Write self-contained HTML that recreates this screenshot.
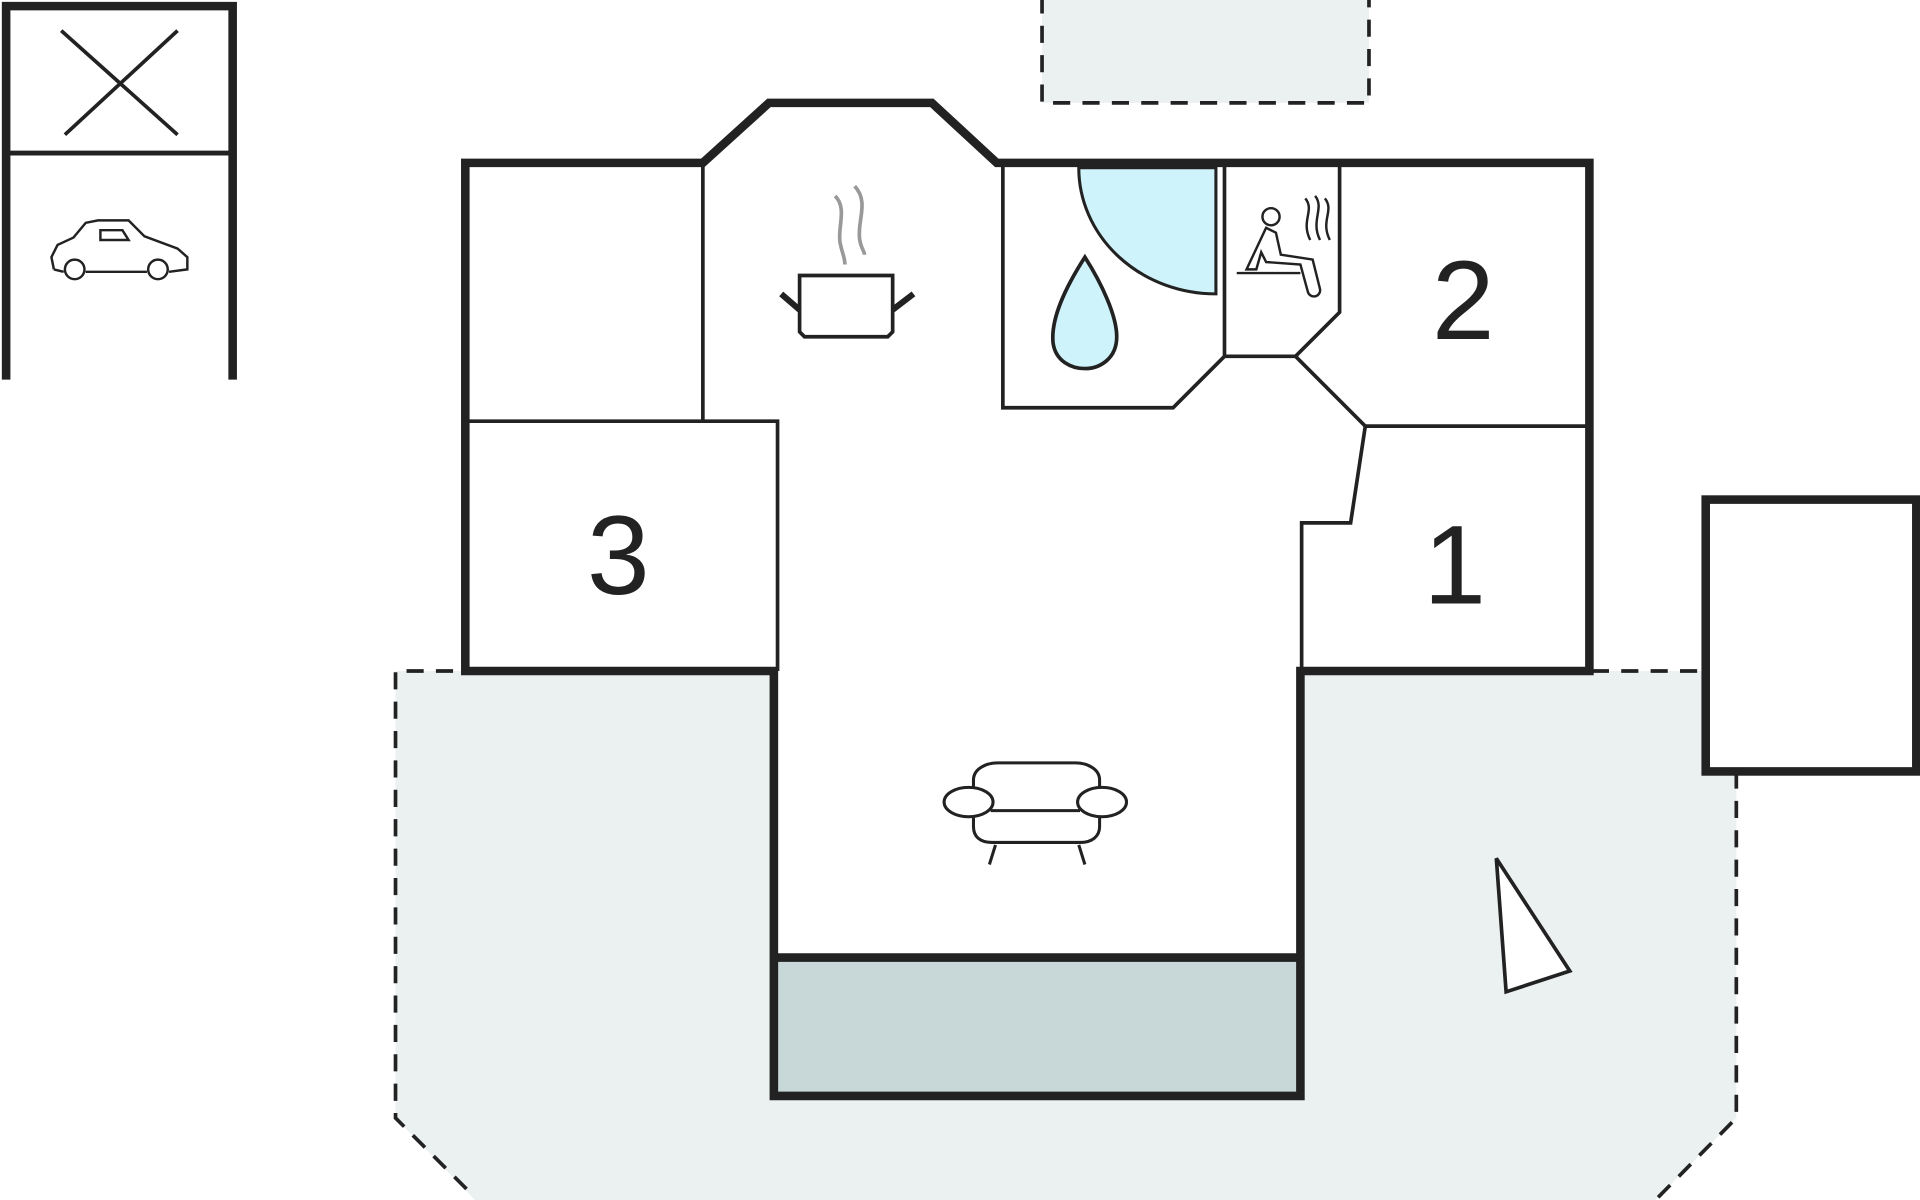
<!DOCTYPE html>
<html><head><meta charset="utf-8"><style>
html,body{margin:0;padding:0;background:#fff;}
svg{display:block;}
</style></head><body>
<svg width="1920" height="1200" viewBox="0 0 1568 980" xmlns="http://www.w3.org/2000/svg">
<rect width="1568" height="980" fill="#fff"/>
<!-- terrace -->
<polygon points="323,548 1395,548 1395,630 1418,630 1418,913 1352,980 388,980 323,913" fill="#ebf0f0"/>
<polyline points="370,548 323,548 323,913 388,978" fill="none" stroke="#222" stroke-width="3" stroke-dasharray="14,10"/>
<polyline points="1300,548 1395,548" fill="none" stroke="#222" stroke-width="3" stroke-dasharray="14,10"/>
<polyline points="1418,630 1418,913 1352,980" fill="none" stroke="#222" stroke-width="3" stroke-dasharray="14,10"/>
<!-- top dashed -->
<rect x="851" y="-5" width="267" height="89" fill="#ebf0f0" stroke="#222" stroke-width="3" stroke-dasharray="14,10"/>
<!-- right box -->
<rect x="1393" y="408" width="172" height="222" fill="#fff" stroke="#222" stroke-width="7"/>
<!-- house -->
<polygon points="380,133 574,133 628,84 761,84 814,133 1298,133 1298,548 1062,548 1062,895 632,895 632,548 380,548" fill="#fff"/>
<rect x="632" y="782" width="430" height="113" fill="#c8d8d8"/>
<!-- shower -->
<path d="M881,137 A112,103 0 0 0 993,240 L993,137 Z" fill="#cff3fa" stroke="#222" stroke-width="2.5"/>
<g fill="none" stroke="#222" stroke-width="3">
<polyline points="574,133 574,344"/>
<polyline points="380,344 635,344 635,548"/>
<polyline points="819,133 819,333 958,333 1000,291 1000,133"/>
<polyline points="1000,291 1058,291 1094,255 1094,133"/>
<polyline points="1058,291 1115,348 1298,348"/>
<polyline points="1115,348 1103,427 1063,427 1063,548"/>
</g>
<polygon points="380,133 574,133 628,84 761,84 814,133 1298,133 1298,548 1062,548 1062,895 632,895 632,548 380,548" fill="none" stroke="#222" stroke-width="7"/>
<line x1="632" y1="782" x2="1062" y2="782" stroke="#222" stroke-width="7"/>
<!-- garage -->
<g stroke="#222" stroke-width="7" fill="none">
<polyline points="5,310 5,5 190,5 190,310"/>
<line x1="5" y1="125" x2="190" y2="125" stroke-width="4"/>
</g>
<g stroke="#222" stroke-width="3">
<line x1="50" y1="25" x2="145" y2="110"/><line x1="145" y1="25" x2="53" y2="110"/>
</g>
<!-- car -->
<g fill="none" stroke="#222" stroke-width="2">
<path d="M44,220 L42,210 L47,200 L60,194 L70,182 L80,180 L105,180 L118,193 L145,203 L153,210 L153,220 L138,222 M120,222 L70,222 M52,222 L44,220"/>
<path d="M82,188 L100,188 L105,196 L82,196 Z"/>
<circle cx="61" cy="220" r="8"/><circle cx="129" cy="220" r="8"/>
</g>
<!-- numbers -->
<g font-family="Liberation Sans, sans-serif" font-size="92" fill="#222" text-anchor="middle">
<text x="505" y="485">3</text>
<text x="1195" y="277">2</text>
<text x="1188" y="493">1</text>
</g>
<!-- pot -->
<g fill="none" stroke="#222" stroke-width="3">
<path d="M653,225 L729,225 L729,271 L725,275 L657,275 L653,271 Z"/>
<path d="M653,253 L638,240 M729,253 L746,240" stroke-width="5"/>
</g>
<g fill="none" stroke="#999" stroke-width="3">
<path d="M682,160 C692,170 684,185 686,198 C688,208 690,210 690,216"/>
<path d="M698,152 C710,165 700,180 702,195 C703,203 706,205 706,208"/>
</g>
<!-- drop -->
<path d="M886,210 C870,235 858,260 860,280 C862,295 875,301 886,301 C898,301 912,293 912,275 C912,258 900,232 886,210 Z" fill="#cff3fa" stroke="#222" stroke-width="3"/>
<!-- sauna -->
<g fill="none" stroke="#222" stroke-width="2">
<circle cx="1038" cy="177" r="7"/>
<path d="M1034,186 L1018,220 L1026,220 L1030,206 L1034,214 L1062,216 L1068,238 A5,5 0 0 0 1078,236 L1072,212 L1046,208 L1042,190 Z"/>
<line x1="1010" y1="223" x2="1062" y2="223"/>
<path d="M1066,162 C1074,172 1062,180 1070,196 M1074,160 C1082,170 1070,180 1078,196 M1082,162 C1090,172 1078,180 1086,196"/>
</g>
<!-- sofa -->
<g fill="#fff" stroke="#222" stroke-width="2.5">
<path d="M795,660 L795,637 C795,628 805,623 815,623 L878,623 C888,623 898,628 898,637 L898,660"/>
<path d="M795,665 L795,675 C795,683 800,688 810,688 L882,688 C892,688 898,683 898,675 L898,665"/>
<line x1="809" y1="662" x2="882" y2="662"/>
<ellipse cx="791" cy="655" rx="20" ry="12"/>
<ellipse cx="900" cy="655" rx="20" ry="12"/>
<line x1="813" y1="690" x2="808" y2="706"/><line x1="881" y1="690" x2="886" y2="706"/>
</g>
<!-- compass -->
<polygon points="1222,701 1282,793 1230,810" fill="#fff" stroke="#222" stroke-width="3"/>
</svg>
</body></html>
